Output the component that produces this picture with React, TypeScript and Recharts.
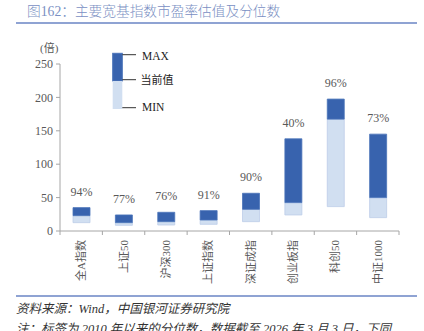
import React from 'react';
import { BarChart, Bar, XAxis, YAxis, LabelList } from 'recharts';

const categories = ['全A指数', '上证50', '沪深300', '上证指数', '深证成指', '创业板指', '科创50', '中证1000'];
const minPE = [12.5, 8.5, 9, 10, 14, 24, 36.5, 20];
const currentPE = [23, 12.5, 14, 16.5, 32.5, 42.5, 167.5, 50];
const maxPE = [35, 24, 28, 30.5, 56.5, 138, 197.5, 145];
const percentiles = ['94%', '77%', '76%', '91%', '90%', '40%', '96%', '73%'];
const yTicks = [0, 50, 100, 150, 200, 250];

const FONT = '"Liberation Serif", "Noto Sans CJK SC", serif';
const DARK = '#3863ae';
const LIGHT = '#d1dff1';
const AXIS = '#a6a6a6';
const TEXT = '#595959';

const W = 424;
const CHART_H = 300;
const MARGIN = { top: 64, right: 25, left: 0, bottom: 0 };
const Y_W = 60;
const BAND = (W - MARGIN.left - MARGIN.right - Y_W) / categories.length;

const data = categories.map((name, i) => ({
  name,
  base: minPE[i],
  low: currentPE[i] - minPE[i],
  high: maxPE[i] - currentPE[i],
  pct: percentiles[i],
}));

// category labels read bottom-to-top, ticks sit on the category edges
const CategoryTick = (props: any) => {
  const { x, y, payload, index } = props;
  const left = x - BAND / 2;
  const right = x + BAND / 2;
  return (
    <g>
      <line x1={left} y1={y} x2={left} y2={y + 4} stroke={AXIS} />
      {index === categories.length - 1 && (
        <line x1={right} y1={y} x2={right} y2={y + 4} stroke={AXIS} />
      )}
      <text
        transform={`translate(${x},${y + 9}) rotate(-90)`}
        textAnchor="end"
        dominantBaseline="central"
        fontSize={11}
        fill={TEXT}
        fontFamily={FONT}
      >
        {payload.value}
      </text>
    </g>
  );
};

const Legend = () => (
  <svg
    width={80}
    height={70}
    style={{ position: 'absolute', left: 108, top: 48 }}
    fontFamily={FONT}
  >
    <rect x={4.7} y={5.3} width={9.6} height={27.7} fill={DARK} stroke="#4a73b9" />
    <rect x={4.7} y={33} width={9.6} height={28} fill={LIGHT} />
    <line x1={14.3} y1={6.7} x2={28} y2={6.7} stroke="#333" />
    <line x1={14.3} y1={31.7} x2={28} y2={31.7} stroke="#333" />
    <line x1={14.3} y1={59.7} x2={28} y2={59.7} stroke="#333" />
    <text x={34} y={7.7} dominantBaseline="central" fontSize={11.5} fill="#222">MAX</text>
    <text x={32.5} y={32} dominantBaseline="central" fontSize={11} fill="#222">当前值</text>
    <text x={34} y={58.7} dominantBaseline="central" fontSize={11.5} fill="#222">MIN</text>
  </svg>
);

export default function App() {
  return (
    <div
      style={{
        position: 'absolute',
        left: 0,
        top: 0,
        width: W,
        height: 331,
        overflow: 'hidden',
        background: '#fff',
        fontFamily: FONT,
      }}
    >
      <div
        style={{
          position: 'absolute',
          left: 27,
          top: 3,
          fontSize: 13.7,
          fontWeight: 300,
          color: '#7a8fc3',
          whiteSpace: 'nowrap',
          lineHeight: '18px',
        }}
      >
        图162：主要宽基指数市盈率估值及分位数
      </div>
      <div style={{ position: 'absolute', left: 16, top: 22, width: 401, height: 2, background: '#8fa3d3' }} />

      <div
        style={{
          position: 'absolute',
          left: 40,
          top: 40,
          fontSize: 11,
          color: TEXT,
          lineHeight: '16px',
          whiteSpace: 'nowrap',
        }}
      >
        (倍)
      </div>

      <div style={{ position: 'absolute', left: 0, top: 0 }}>
        <BarChart width={W} height={CHART_H} data={data} margin={MARGIN} barSize={17}>
          <XAxis
            dataKey="name"
            interval={0}
            height={CHART_H - 231}
            axisLine={{ stroke: AXIS }}
            tickLine={false}
            tickSize={0}
            tickMargin={0}
            tick={<CategoryTick />}
          />
          <YAxis
            width={Y_W}
            domain={[0, 250]}
            ticks={yTicks}
            axisLine={{ stroke: AXIS }}
            tickLine={{ stroke: AXIS }}
            tickSize={4}
            tickMargin={3}
            tick={{ fontSize: 12, fill: TEXT, fontFamily: FONT }}
          />
          <Bar dataKey="base" stackId="pe" fill="transparent" isAnimationActive={false} />
          <Bar dataKey="low" stackId="pe" fill={LIGHT} stroke="#bccde9" strokeWidth={0.8} isAnimationActive={false} />
          <Bar dataKey="high" stackId="pe" fill={DARK} stroke="#4a73b9" strokeWidth={0.8} isAnimationActive={false}>
            <LabelList dataKey="pct" position="top" offset={12} fontSize={12} fill={TEXT} fontFamily={FONT} />
          </Bar>
        </BarChart>
      </div>

      <Legend />

      <div style={{ position: 'absolute', left: 16, top: 295, width: 401, height: 2, background: '#8fa3d3' }} />
      <div
        style={{
          position: 'absolute',
          left: 16,
          top: 301,
          fontSize: 12.5,
          fontStyle: 'italic',
          color: '#333',
          whiteSpace: 'nowrap',
          lineHeight: '16px',
        }}
      >
        资料来源：Wind，中国银河证券研究院
      </div>
      <div
        style={{
          position: 'absolute',
          left: 16,
          top: 321,
          fontSize: 12.5,
          fontStyle: 'italic',
          color: '#333',
          whiteSpace: 'nowrap',
          lineHeight: '16px',
        }}
      >
        注：标签为 2010 年以来的分位数，数据截至 2026 年 3 月 3 日，下同
      </div>
    </div>
  );
}
